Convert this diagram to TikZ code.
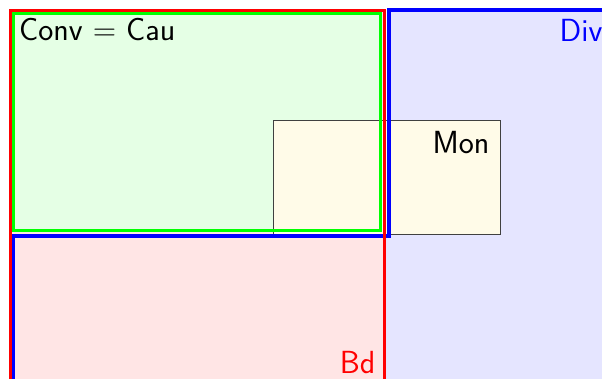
\documentclass[tikz,border=0pt]{standalone}
\usepackage{tikz}
\usepackage{xcolor}
\usetikzlibrary{positioning}
\definecolor{moncream}{RGB}{255,251,232}
\tikzset{
    lbl/.style={font=\fontsize{32}{38}\selectfont\sffamily, inner sep=0pt},
    setline/.style={line width=3pt}
}

\begin{document}
\begin{tikzpicture}[x=1pt, y=-1pt]
    \useasboundingbox (0,0) rectangle (602,378);
    \clip (0,0) rectangle (602,378);
    % ---- RIEMPIMENTI ----
    \fill[blue!10] (13.5,420) -- (13.5,236) -- (389,236) -- (389,10) -- (660,10) -- (660,420) -- cycle;
    \fill[red!10] (10.5,10.5) rectangle (384.5,420);
    \fill[green!10] (13.5,13.5) rectangle (380.5,230.5);
    % ---- MON ----
    \draw[fill=moncream, draw=black!75, line width=0.8pt] (273,120) rectangle (500,234);
    % ---- BORDI ----
    \draw[setline, line width=3.5pt, blue] (13.5,420) -- (13.5,236) -- (389,236) -- (389,10) -- (660,10);
    \draw[setline, red] (10.5,420) -- (10.5,10.5) -- (384.5,10.5) -- (384.5,420);
    \draw[setline, green] (13.5,13.5) rectangle (380.5,230.5);
    % ---- ETICHETTE ----
    \node[lbl, anchor=base west] (conv) at (19,40.5) {Conv = Cau};
    \node[lbl, anchor=base west, blue] (div) at (559.5,41) {Div};
    \node[lbl, anchor=base east] (mon) at (489.5,153) {Mon};
    \node[lbl, anchor=base east, red] (bd) at (375.5,373) {Bd};
\end{tikzpicture}
\end{document}
